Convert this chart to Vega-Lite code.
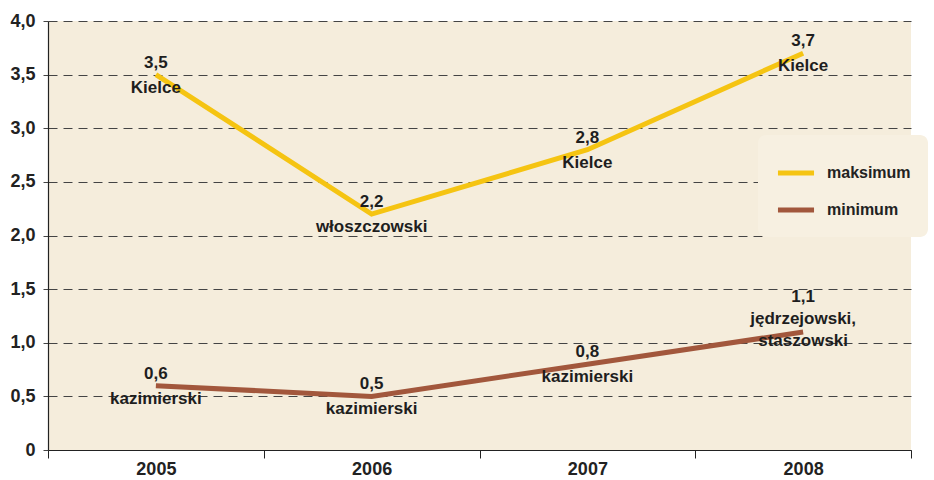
{
  "$schema": "https://vega.github.io/schema/vega-lite/v6.json",
  "width": 863,
  "height": 429,
  "autosize": {"type": "none"},
  "padding": {"left": 48, "top": 21, "right": 23, "bottom": 30},
  "background": "#ffffff",
  "config": {
    "view": {"fill": "#f5eddc", "stroke": null},
    "font": "Liberation Sans"
  },
  "data": {
    "values": [
      {"year": "2005", "series": "maksimum", "value": 3.5, "label": ["3,5", "Kielce"], "grp": "a"},
      {"year": "2006", "series": "maksimum", "value": 2.2, "label": ["2,2", "włoszczowski"], "grp": "a"},
      {"year": "2007", "series": "maksimum", "value": 2.8, "label": ["2,8", "Kielce"], "grp": "a"},
      {"year": "2008", "series": "maksimum", "value": 3.7, "label": ["3,7", "Kielce"], "grp": "a"},
      {"year": "2005", "series": "minimum", "value": 0.6, "label": ["0,6", "kazimierski"], "grp": "a"},
      {"year": "2006", "series": "minimum", "value": 0.5, "label": ["0,5", "kazimierski"], "grp": "a"},
      {"year": "2007", "series": "minimum", "value": 0.8, "label": ["0,8", "kazimierski"], "grp": "a"},
      {"year": "2008", "series": "minimum", "value": 1.1, "label": ["1,1", "jędrzejowski,", "staszowski"], "grp": "b"}
    ]
  },
  "encoding": {
    "x": {
      "field": "year",
      "type": "ordinal",
      "scale": {"paddingInner": 0, "paddingOuter": 0},
      "axis": {
        "title": null,
        "labelAngle": 0,
        "labelFont": "Liberation Sans",
        "labelFontWeight": "bold",
        "labelFontSize": 18,
        "labelColor": "#222222",
        "labelPadding": 2,
        "tickBand": "extent",
        "tickSize": 8,
        "tickColor": "#222222",
        "domainColor": "#222222",
        "domainWidth": 1.2,
        "grid": false
      }
    },
    "y": {
      "field": "value",
      "type": "quantitative",
      "scale": {"domain": [0, 4], "nice": false, "zero": true},
      "axis": {
        "title": null,
        "values": [0, 0.5, 1, 1.5, 2, 2.5, 3, 3.5, 4],
        "labelExpr": "datum.value == 0 ? '0' : replace(format(datum.value, '.1f'), '.', ',')",
        "labelFont": "Liberation Sans",
        "labelFontWeight": "bold",
        "labelFontSize": 18,
        "labelColor": "#222222",
        "labelPadding": 8,
        "tickSize": 5,
        "tickColor": "#444444",
        "tickDash": [9, 6],
        "domainColor": "#222222",
        "domainWidth": 1.2,
        "grid": true,
        "gridColor": "#444444",
        "gridDash": [9, 6],
        "gridWidth": 1,
        "gridOpacity": 1
      }
    }
  },
  "layer": [
    {
      "mark": {"type": "line", "strokeWidth": 5, "strokeCap": "butt"},
      "encoding": {
        "color": {
          "field": "series",
          "type": "nominal",
          "scale": {"domain": ["maksimum", "minimum"], "range": ["#f5c412", "#a2573c"]},
          "legend": {
            "title": null,
            "orient": "none",
            "legendX": 710,
            "legendY": 114,
            "fillColor": "#f7f0e1",
            "cornerRadius": 8,
            "padding": 17,
            "symbolType": "stroke",
            "symbolSize": 1300,
            "symbolStrokeWidth": 5,
            "labelFont": "Liberation Sans",
            "labelFontWeight": "bold",
            "labelFontSize": 16,
            "labelColor": "#222222",
            "labelOffset": 10,
            "rowPadding": 6,
            "labelLimit": 200
          }
        }
      }
    },
    {
      "transform": [{"filter": "datum.grp == 'a'"}],
      "mark": {"type": "text", "fontSize": 17, "fontWeight": "bold", "font": "Liberation Sans", "color": "#1e1e1e", "baseline": "middle", "align": "center", "lineHeight": 25, "dy": -12},
      "encoding": {"text": {"field": "label"}}
    },
    {
      "transform": [{"filter": "datum.grp == 'b'"}],
      "mark": {"type": "text", "fontSize": 17, "fontWeight": "bold", "font": "Liberation Sans", "color": "#1e1e1e", "baseline": "middle", "align": "center", "lineHeight": 22, "dy": -35},
      "encoding": {"text": {"field": "label"}}
    }
  ]
}
